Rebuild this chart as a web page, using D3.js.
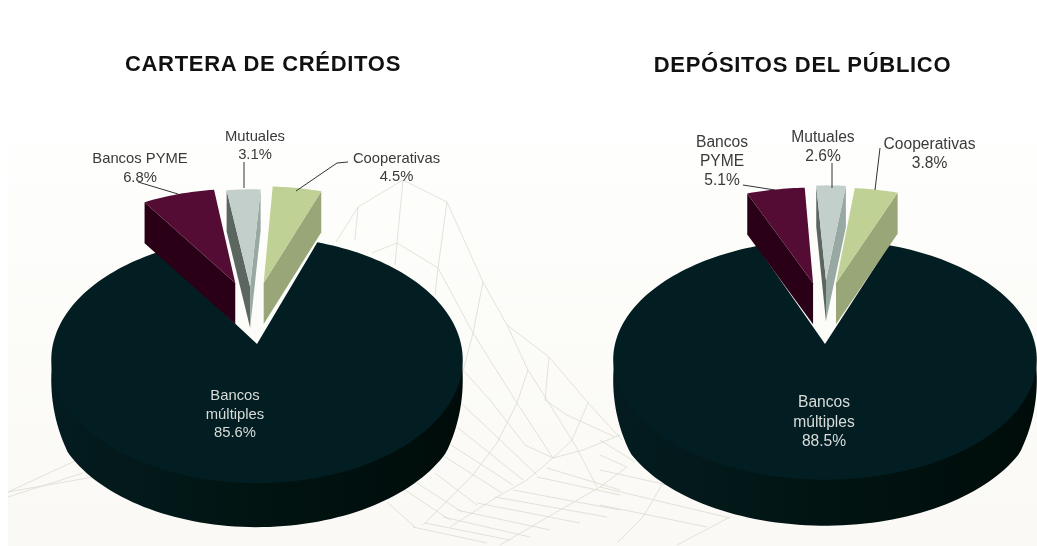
<!DOCTYPE html>
<html><head><meta charset="utf-8">
<script src="https://cdn.jsdelivr.net/npm/d3@7/dist/d3.min.js"></script>
<style>html,body{margin:0;padding:0;background:#fff;overflow:hidden}svg{display:block;filter:blur(0.45px)}</style>
</head><body><svg id="c" width="1037" height="546"></svg>
<script>
// ---- data ----
const categories = ["Bancos múltiples","Bancos PYME","Mutuales","Cooperativas"];
const creditValues = [85.6,6.8,3.1,4.5];
const depositValues = [88.5,5.1,2.6,3.8];
const chartTitles = ["CARTERA DE CRÉDITOS","DEPÓSITOS DEL PÚBLICO"];
const sliceColors = ["#031e22","#540c34","#c3cfca","#c0d196"];
const sideColorsLeft = [null,"#2a0016","#5c6660",null];
const sideColorsRight = [null,null,"#98a8a2","#98a678"];

// ---- layout (perspective pie model, not data) ----
const persp = 7.67;
const pies = [
 {values:creditValues, title:chartTitles[0], tx:263, ty:70.5, cx:257, cy:344, R:204, Rk:121, wall:44, start:19.4, font:14.8,
  radii:[1,1,1.03,1.03],
  explode:[[0,0],[-.114,.539],[-.036,.504],[.035,.539]],
  labels:[
   {lines:["Bancos","múltiples","85.6%"],x:235,y:[400,419,437],light:true},
   {lines:["Bancos PYME","6.8%"],x:140,y:[163,182]},
   {lines:["Mutuales","3.1%"],x:255,y:[140.5,159]},
   {lines:["Cooperativas","4.5%"],x:396.5,y:[163,181]}],
  leaders:[[[138,182],[178,194]],[[244,162],[244,188]],[[348,162],[337,163],[296,191]]]},
 {values:depositValues, title:chartTitles[1], tx:802.5, ty:71.5, cx:825, cy:344, R:210, Rk:118, wall:46, start:20, font:15.6,
  radii:[1,1.05,1.05,1.05],
  explode:[[0,0],[-.061,.553],[.005,.58],[.056,.553]],
  labels:[
   {lines:["Bancos","múltiples","88.5%"],x:824,y:[407,427,446],light:true},
   {lines:["Bancos","PYME","5.1%"],x:722,y:[147,166,185]},
   {lines:["Mutuales","2.6%"],x:823,y:[142,161]},
   {lines:["Cooperativas","3.8%"],x:929.5,y:[149,168]}],
  leaders:[[[743,185],[775,190]],[[832,163],[832,188]],[[880,148],[875,190]]]}
];
const wedgeDepth = 41;

// background wire-mesh lines
const meshLines = [
 [[336,242],[358,207],[403,180],[447,202],[483,282],[507,325],[528,370],[547,400],[575,445],[597,487]],
 [[372,253],[397,243],[438,268],[473,333],[517,403],[553,458]],
 [[463,370],[490,400],[525,445],[553,458]],
 [[358,207],[355,240]],[[403,180],[397,243],[395,265]],[[447,202],[438,268],[435,295]],
 [[483,282],[473,333],[462,375]],[[528,370],[517,403],[497,443],[473,475],[423,525]],
 [[507,325],[549,357],[590,405],[622,440]],[[549,357],[545,400],[567,415],[615,437]],
 [[588,403],[572,440],[553,458],[527,480],[497,497],[450,527]],
 [[620,435],[583,450],[553,458]],
 [[460,402],[537,475]],[[457,427],[523,480]],[[448,443],[513,485]],[[442,455],[502,493]],
 [[435,473],[477,505]],[[417,483],[462,512]],[[405,490],[450,520]],[[387,502],[415,527]],
 [[413,527],[487,543]],[[425,523],[510,540]],[[443,517],[530,537]],[[457,510],[550,530]],
 [[477,503],[580,523]],[[495,497],[607,517]],[[513,490],[620,510]],[[537,477],[620,495]],[[547,468],[620,490]],
 [[600,487],[730,518]],[[600,505],[707,527]],[[600,470],[690,490]],[[627,467],[600,487],[560,510],[500,545]],
 [[663,483],[643,517],[617,543]],[[730,517],[677,545]],[[600,440],[635,462]],[[600,455],[627,467]],
 [[8,492],[77,460]],[[8,497],[83,473]],[[8,492],[93,477]]
];

// ---- drawing ----
const svg = d3.select("#c");
const defs = svg.append("defs");
const bg = defs.append("linearGradient").attr("id","bg").attr("x1",0).attr("y1",0).attr("x2",0).attr("y2",1);
bg.append("stop").attr("offset",0).attr("stop-color","#fefefc");
bg.append("stop").attr("offset",1).attr("stop-color","#faf9f5");
svg.append("rect").attr("width",1037).attr("height",546).attr("fill","#fff");
svg.append("rect").attr("x",8).attr("y",143).attr("width",1029).attr("height",403).attr("fill","url(#bg)");

const line = d3.line().x(d=>d[0]).y(d=>d[1]);
svg.append("g").selectAll("path").data(meshLines).join("path")
  .attr("d",line).attr("fill","none").attr("stroke","#dcdcd0").attr("stroke-width",.8);

const rad = d=>d*Math.PI/180;
pies.forEach((p,pi)=>{
  const project=(a,r,off)=>{
    const u=r*Math.sin(a)+off[0], v=r*Math.cos(a)+off[1], s=persp/(persp+v);
    return [p.cx+p.R*u*s, p.cy-p.Rk*v*s];
  };
  const wallGrad=defs.append("linearGradient").attr("id","wall"+pi);
  wallGrad.append("stop").attr("offset",0).attr("stop-color","#041c20");
  wallGrad.append("stop").attr("offset",.5).attr("stop-color","#011412");
  wallGrad.append("stop").attr("offset",1).attr("stop-color","#000c0a");

  const arcs=d3.pie().sort(null).startAngle(rad(p.start)).endAngle(rad(p.start)+2*Math.PI)(p.values);
  const g=svg.append("g");
  arcs.forEach((d,i)=>{
    const off=p.explode[i];
    const n=i===0?180:16;
    const outer=d3.range(n+1).map(k=>project(d.startAngle+(d.endAngle-d.startAngle)*k/n,p.radii[i],off));
    const apex=project(0,0,off);
    const down=(q,h)=>[q[0],q[1]+h];
    if(i===0){
      const angles=d3.range(n+1).map(k=>d.startAngle+(d.endAngle-d.startAngle)*k/n)
        .filter(a=>a>rad(90)&&a<rad(270));
      const inner=angles.map(a=>project(a,.99,off));
      const shell=angles.map(a=>{
        const h=p.wall*Math.max(.1,Math.min(1,.25+1.5*(-Math.cos(a))));
        return down(project(a,1,off),h);
      });
      g.append("path").attr("d",line([...inner,...shell.slice().reverse()])+"Z")
        .attr("fill",`url(#wall${pi})`);
    } else {
      const a=outer[0], b=outer[n];
      if(sideColorsLeft[i]) g.append("path").attr("d",line([a,down(a,wedgeDepth),down(apex,wedgeDepth),apex])+"Z").attr("fill",sideColorsLeft[i]);
      if(sideColorsRight[i]) g.append("path").attr("d",line([b,down(b,wedgeDepth),down(apex,wedgeDepth),apex])+"Z").attr("fill",sideColorsRight[i]);
    }
    g.append("path").attr("d",line([apex,...outer])+"Z").attr("fill",sliceColors[i]);
  });
  svg.append("g").selectAll("path").data(p.leaders).join("path").attr("d",line)
    .attr("fill","none").attr("stroke","#333").attr("stroke-width",1);
  p.labels.forEach(l=>{
    l.lines.forEach((t,k)=>{
      svg.append("text").attr("x",l.x).attr("y",l.y[k]).attr("text-anchor","middle")
        .attr("font-family","'Liberation Sans',Arial,sans-serif").attr("font-size",p.font)
        .attr("fill",l.light?"#d8dcda":"#3a3a3a").text(t);
    });
  });
  svg.append("text").attr("x",p.tx).attr("y",p.ty).attr("text-anchor","middle")
    .attr("font-family","'Liberation Sans',Arial,sans-serif").attr("font-weight","bold")
    .attr("font-size",22).attr("letter-spacing",.7).attr("fill","#111").text(p.title);
});
</script></body></html>
